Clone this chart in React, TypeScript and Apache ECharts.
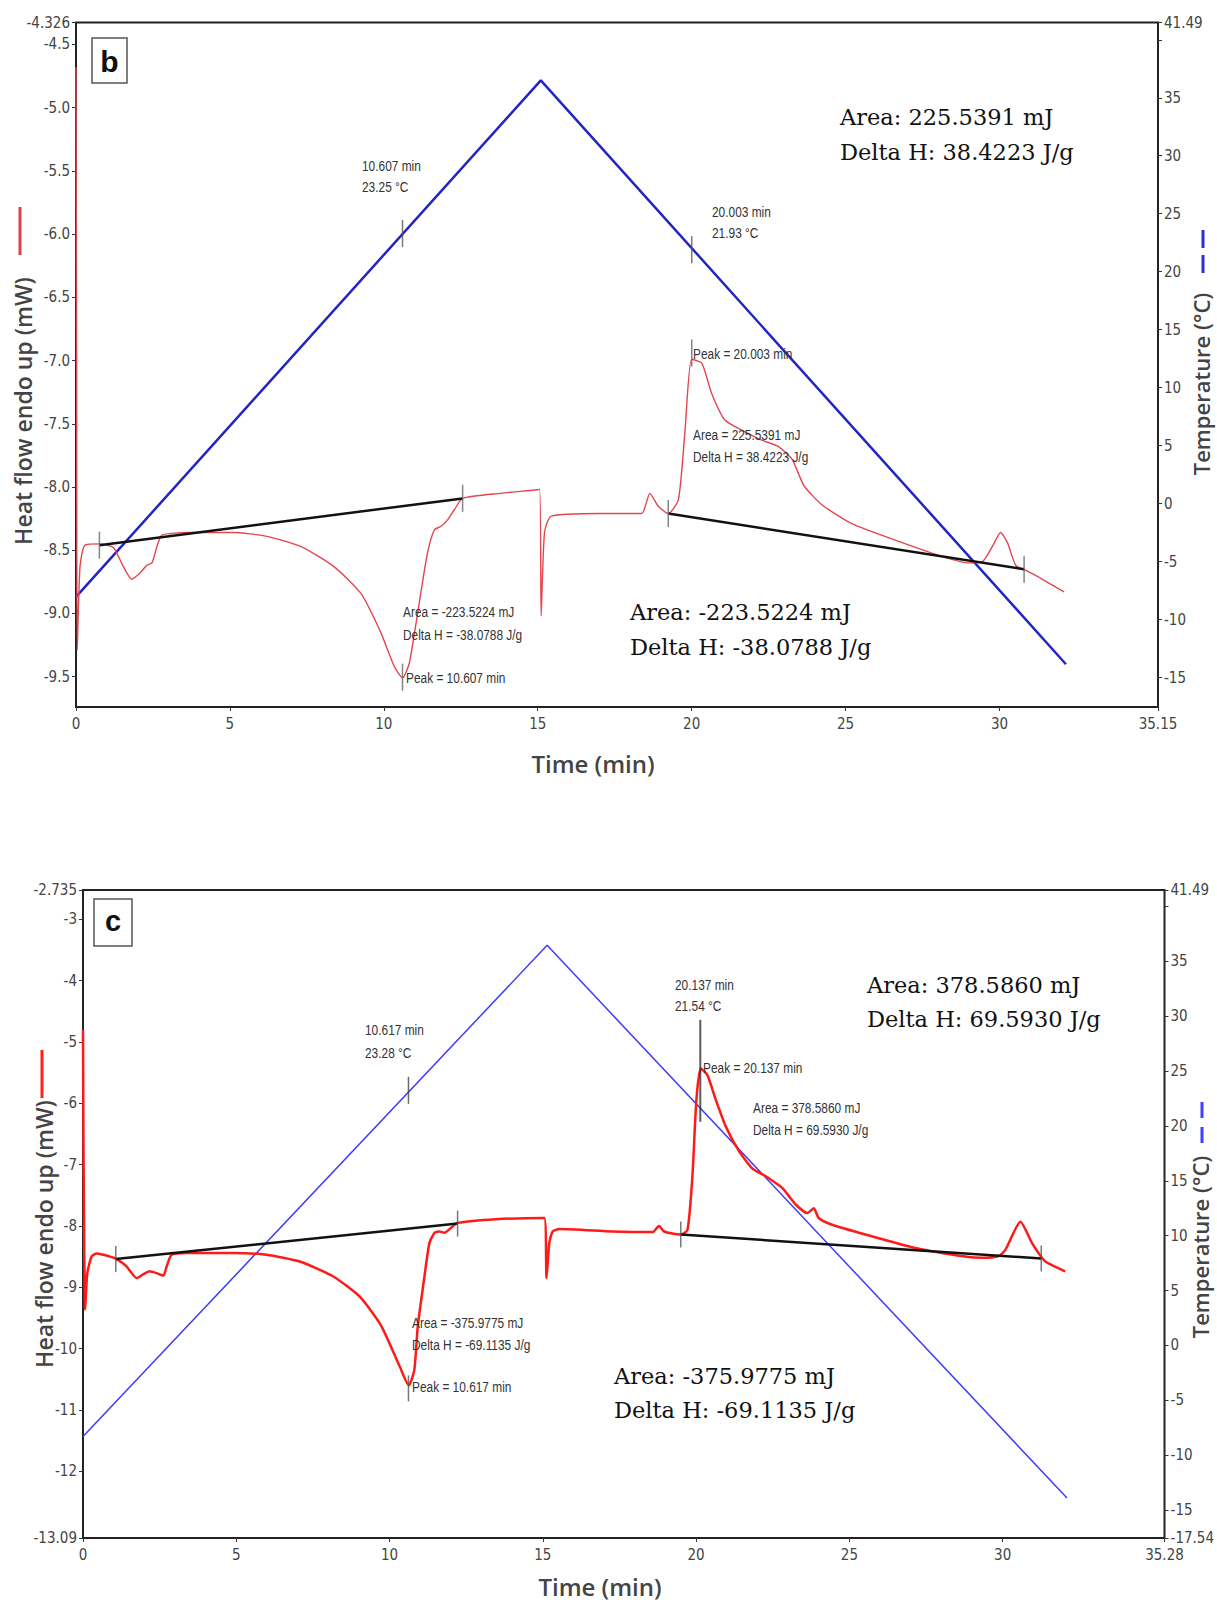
import React, { useEffect, useRef } from "react";
import * as echarts from "echarts";

// ---------- Panel b data ----------
const heatFlowB: [number, number][] = [
  [0, -4.68], [0.02, -7.0], [0.04, -9.29], [0.13, -8.63], [0.29, -8.46], [0.78, -8.45],
  [1.22, -8.48], [1.54, -8.63], [1.81, -8.73], [2.08, -8.68], [2.3, -8.62], [2.47, -8.6],
  [2.63, -8.47], [2.79, -8.38], [3.6, -8.36], [5.1, -8.36], [6.2, -8.39], [7.3, -8.47],
  [8.38, -8.63], [9.25, -8.84], [9.9, -9.15], [10.34, -9.42], [10.61, -9.51], [10.82, -9.4],
  [11.0, -9.15], [11.2, -8.84], [11.42, -8.52], [11.64, -8.34], [11.86, -8.31], [12.07, -8.26],
  [12.29, -8.18], [12.56, -8.09], [13.8, -8.05], [15.06, -8.02], [15.11, -9.02], [15.22, -8.36],
  [15.44, -8.23], [17.07, -8.21], [18.37, -8.21], [18.64, -8.05], [18.91, -8.15], [19.24, -8.21],
  [19.57, -8.1], [19.78, -7.57], [20.0, -6.99], [20.33, -7.02], [20.65, -7.26], [21.08, -7.47],
  [21.63, -7.55], [22.28, -7.63], [22.82, -7.68], [23.26, -7.78], [23.65, -7.99], [24.23, -8.14],
  [25.2, -8.29], [26.84, -8.44], [28.14, -8.55], [29.01, -8.6], [29.45, -8.59], [29.77, -8.47],
  [30.04, -8.36], [30.26, -8.44], [30.53, -8.62], [30.86, -8.66], [31.4, -8.73], [32.1, -8.83],
];
const temperatureB: [number, number][] = [[0, -8.05], [15.1, 36.5], [32.16, -13.85]];
const baselineB1: [number, number][] = [[0.76, -8.46], [12.56, -8.09]];
const baselineB2: [number, number][] = [[19.24, -8.21], [30.8, -8.65]];
const markersHeatB: [number, number][] = [
  [0.76, -8.46], [12.56, -8.09], [10.607, -9.504], [19.24, -8.21], [20.003, -6.94], [30.8, -8.65],
];
const markersTempB: [number, number][] = [[10.607, 23.3], [20.003, 21.9]];

const xTicksB = [0, 5, 10, 15, 20, 25, 30, 35.15];
const yLeftTicksB = [-4.326, -4.5, -5, -5.5, -6, -6.5, -7, -7.5, -8, -8.5, -9, -9.5];
const yRightTicksB = [41.49, 35, 30, 25, 20, 15, 10, 5, 0, -5, -10, -15];
const yRightMinorB = [41.49, 40, 35, 30, 25, 20, 15, 10, 5, 0, -5, -10, -15];

// ---------- Panel c data ----------
const heatFlowC: [number, number][] = [
  [0, -4.8], [0.02, -7.0], [0.07, -9.36], [0.14, -8.77], [0.28, -8.5], [0.45, -8.45],
  [0.88, -8.5], [1.1, -8.54], [1.42, -8.66], [1.75, -8.85], [1.96, -8.79], [2.18, -8.74],
  [2.4, -8.77], [2.62, -8.81], [2.73, -8.66], [2.89, -8.47], [3.38, -8.44], [4.9, -8.44],
  [5.98, -8.47], [7.07, -8.58], [8.15, -8.82], [9.02, -9.15], [9.72, -9.62], [10.33, -10.29],
  [10.63, -10.6], [10.81, -10.34], [10.92, -9.64], [11.14, -8.82], [11.3, -8.28], [11.47, -8.11],
  [11.63, -8.09], [11.79, -8.11], [12.01, -8.03], [12.22, -7.95], [13.47, -7.89], [15.05, -7.87],
  [15.12, -8.85], [15.21, -8.28], [15.32, -8.09], [15.54, -8.05], [17.27, -8.09], [18.58, -8.1],
  [18.79, -8.0], [18.96, -8.09], [19.5, -8.14], [19.72, -8.06], [19.88, -7.19], [20.01, -5.94],
  [20.15, -5.43], [20.37, -5.54], [20.64, -5.94], [20.97, -6.38], [21.4, -6.78], [21.83, -7.06],
  [22.27, -7.19], [22.81, -7.38], [23.25, -7.65], [23.63, -7.79], [23.84, -7.71], [24.0, -7.87],
  [24.44, -7.98], [25.53, -8.14], [27.16, -8.36], [28.78, -8.5], [29.33, -8.52], [29.87, -8.49],
  [30.09, -8.39], [30.58, -7.93], [30.96, -8.28], [31.17, -8.44], [31.39, -8.58], [32.04, -8.74],
];
const temperatureC: [number, number][] = [[0, -8.3], [15.14, 36.45], [32.1, -13.9]];
const baselineC1: [number, number][] = [[1.07, -8.54], [12.22, -7.96]];
const baselineC2: [number, number][] = [[19.5, -8.14], [31.26, -8.53]];
const markersHeatC: [number, number][] = [
  [1.07, -8.54], [12.22, -7.96], [10.617, -10.65], [19.5, -8.14], [31.26, -8.53],
];
const peakMarkerC: [number, number][] = [[20.137, -5.47]];
const markersTempC: [number, number][] = [[10.617, 23.24]];

const xTicksC = [0, 5, 10, 15, 20, 25, 30, 35.28];
const yLeftTopC = -2.52;
const yLeftTicksC = [yLeftTopC, -3, -4, -5, -6, -7, -8, -9, -10, -11, -12, -13.09];
const yRightTicksC = [41.49, 35, 30, 25, 20, 15, 10, 5, 0, -5, -10, -15, -17.54];
const yRightMinorC = [41.49, 40, 35, 30, 25, 20, 15, 10, 5, 0, -5, -10, -15, -17.54];

// ---------- Styling ----------
const NARROW = '"DejaVu Sans Condensed", "Liberation Sans", Arial, sans-serif';
const SANS = '"Liberation Sans", Arial, sans-serif';
const TITLE = '"Open Sans", "Noto Sans", sans-serif';
const SERIF = '"DejaVu Serif", "Liberation Serif", serif';

function xAxisCfg(grid: number, max: number, ticks: number[]) {
  return {
    type: "value", gridIndex: grid, min: 0, max,
    axisLine: { show: false, onZero: false }, splitLine: { show: false },
    axisTick: { show: true, length: 4, customValues: ticks, lineStyle: { color: "#333" } },
    axisLabel: { customValues: ticks, fontFamily: NARROW, fontSize: 15, color: "#444", margin: 9,
      formatter: (v: number) => String(v) },
  };
}
function yAxisCfg(grid: number, pos: string, min: number, max: number, labels: number[], ticks: number[], fmt: (v: number) => string) {
  return {
    type: "value", gridIndex: grid, position: pos, min, max,
    axisLine: { show: false, onZero: false }, splitLine: { show: false },
    axisTick: { show: true, length: 4, customValues: ticks, lineStyle: { color: "#333" } },
    axisLabel: { customValues: labels, fontFamily: NARROW, fontSize: 15, color: "#444", margin: 6, formatter: fmt },
  };
}
function txt(text: string, x: number, y: number, size: number, family: string, opts: any = {}) {
  const align = opts.align || "left";
  return {
    type: "text", x, y, rotation: opts.rotation || 0, scaleX: opts.scaleX || 1, z: 100,
    style: {
      text, fontSize: size, fontFamily: family, fontWeight: opts.weight || "normal",
      fill: opts.fill || "#333", textAlign: align, textVerticalAlign: "middle",
      align, verticalAlign: "middle",
    },
  };
}
function vline(x: number, y1: number, y2: number, stroke: string, width: number, dash?: number[]) {
  return { type: "line", z: 100, shape: { x1: x, y1, x2: x, y2 }, style: { stroke, lineWidth: width, lineDash: dash } };
}
const small = (t: string, x: number, y: number) => txt(t, x, y, 14.5, SANS, { fill: "#333", scaleX: 0.82 });
const big = (t: string, x: number, y: number) => txt(t, x, y, 22.5, SERIF, { fill: "#111" });

const option: any = {
  animation: false,
  backgroundColor: "#ffffff",
  grid: [
    { left: 76, top: 22.5, width: 1082, height: 684.5, show: true, borderColor: "#222", borderWidth: 2, backgroundColor: "transparent" },
    { left: 83, top: 890, width: 1083, height: 648, show: true, borderColor: "#222", borderWidth: 2, backgroundColor: "transparent" },
  ],
  xAxis: [xAxisCfg(0, 35.15, xTicksB), xAxisCfg(1, 35.28, xTicksC)],
  yAxis: [
    yAxisCfg(0, "left", -9.74, -4.326, yLeftTicksB, yLeftTicksB, (v) => (v === -4.326 ? "-4.326" : v.toFixed(1))),
    yAxisCfg(0, "right", -17.54, 41.49, yRightTicksB, yRightMinorB, (v) => String(v)),
    yAxisCfg(1, "left", -13.09, yLeftTopC, yLeftTicksC, yLeftTicksC, (v) => (v === yLeftTopC ? "-2.735" : String(v))),
    yAxisCfg(1, "right", -17.54, 41.49, yRightTicksC, yRightMinorC, (v) => String(v)),
  ],
  series: [
    // panel b
    { type: "line", xAxisIndex: 0, yAxisIndex: 1, data: temperatureB, symbol: "none", lineStyle: { color: "#2424c4", width: 2.5 } },
    { type: "line", xAxisIndex: 0, yAxisIndex: 0, data: heatFlowB, symbol: "none", smooth: 0.2, lineStyle: { color: "#e2474f", width: 1.4 } },
    { type: "line", xAxisIndex: 0, yAxisIndex: 0, data: baselineB1, symbol: "none", lineStyle: { color: "#111", width: 2.5 } },
    { type: "line", xAxisIndex: 0, yAxisIndex: 0, data: baselineB2, symbol: "none", lineStyle: { color: "#111", width: 2.5 } },
    { type: "scatter", xAxisIndex: 0, yAxisIndex: 0, data: markersHeatB, symbol: "rect", symbolSize: [1.5, 27], itemStyle: { color: "#666" }, z: 5 },
    { type: "scatter", xAxisIndex: 0, yAxisIndex: 1, data: markersTempB, symbol: "rect", symbolSize: [1.5, 27], itemStyle: { color: "#555" }, z: 5 },
    // panel c
    { type: "line", xAxisIndex: 1, yAxisIndex: 3, data: temperatureC, symbol: "none", lineStyle: { color: "#3c3cff", width: 1.5 } },
    { type: "line", xAxisIndex: 1, yAxisIndex: 2, data: heatFlowC, symbol: "none", smooth: 0.2, lineStyle: { color: "#ff1a1a", width: 2.5 } },
    { type: "line", xAxisIndex: 1, yAxisIndex: 2, data: baselineC1, symbol: "none", lineStyle: { color: "#111", width: 2.5 } },
    { type: "line", xAxisIndex: 1, yAxisIndex: 2, data: baselineC2, symbol: "none", lineStyle: { color: "#111", width: 2.5 } },
    { type: "scatter", xAxisIndex: 1, yAxisIndex: 2, data: markersHeatC, symbol: "rect", symbolSize: [1.5, 26], itemStyle: { color: "#555" }, z: 5 },
    { type: "scatter", xAxisIndex: 1, yAxisIndex: 2, data: peakMarkerC, symbol: "rect", symbolSize: [2, 102], itemStyle: { color: "#333" }, z: 5 },
    { type: "scatter", xAxisIndex: 1, yAxisIndex: 3, data: markersTempC, symbol: "rect", symbolSize: [1.5, 27], itemStyle: { color: "#444" }, z: 5 },
  ],
  graphic: [
    // panel labels
    { type: "rect", z: 100, shape: { x: 92, y: 38, width: 35, height: 45 }, style: { fill: "#fff", stroke: "#555", lineWidth: 1.5 } },
    txt("b", 109.5, 61, 30, SANS, { align: "center", weight: "bold", fill: "#111" }),
    { type: "rect", z: 100, shape: { x: 94, y: 899, width: 38, height: 47 }, style: { fill: "#fff", stroke: "#555", lineWidth: 1.5 } },
    txt("c", 113, 921, 29, SANS, { align: "center", weight: "bold", fill: "#111" }),

    // axis titles b
    txt("Heat flow endo up (mW)", 23, 411, 23, TITLE, { align: "center", rotation: Math.PI / 2, weight: 600, fill: "#444" }),
    vline(20, 207, 255, "#e0404a", 3),
    txt("Temperature (°C)", 1201, 384, 22, TITLE, { align: "center", rotation: Math.PI / 2, weight: 600, fill: "#444" }),
    vline(1203, 230, 277, "#3030d0", 3, [18, 7]),
    txt("Time (min)", 593, 763, 24, TITLE, { align: "center", weight: 600, fill: "#444" }),

    // axis titles c
    txt("Heat flow endo up (mW)", 44, 1234, 23, TITLE, { align: "center", rotation: Math.PI / 2, weight: 600, fill: "#444" }),
    vline(42, 1050, 1098, "#ff2020", 3),
    txt("Temperature (°C)", 1200, 1247, 22, TITLE, { align: "center", rotation: Math.PI / 2, weight: 600, fill: "#444" }),
    vline(1202, 1102, 1147, "#4040ff", 3, [16, 9]),
    txt("Time (min)", 600, 1586, 24, TITLE, { align: "center", weight: 600, fill: "#444" }),

    // small annotations b
    small("10.607 min", 362, 166), small("23.25 °C", 362, 187),
    small("20.003 min", 712, 212), small("21.93 °C", 712, 233),
    small("Peak = 20.003 min", 693, 354),
    small("Area = 225.5391 mJ", 693, 435), small("Delta H = 38.4223 J/g", 693, 457),
    small("Area = -223.5224 mJ", 403, 612), small("Delta H = -38.0788 J/g", 403, 635),
    small("Peak = 10.607 min", 406, 678),

    // small annotations c
    small("10.617 min", 365, 1030), small("23.28 °C", 365, 1053),
    small("20.137 min", 675, 985), small("21.54 °C", 675, 1006),
    small("Peak = 20.137 min", 703, 1068),
    small("Area = 378.5860 mJ", 753, 1108), small("Delta H = 69.5930 J/g", 753, 1130),
    small("Area = -375.9775 mJ", 412, 1323), small("Delta H = -69.1135 J/g", 412, 1345),
    small("Peak = 10.617 min", 412, 1387),

    // big annotations
    big("Area: 225.5391 mJ", 840, 117), big("Delta H: 38.4223 J/g", 840, 152),
    big("Area: -223.5224 mJ", 630, 612), big("Delta H: -38.0788 J/g", 630, 647),
    big("Area: 378.5860 mJ", 867, 985), big("Delta H: 69.5930 J/g", 867, 1019),
    big("Area: -375.9775 mJ", 614, 1376), big("Delta H: -69.1135 J/g", 614, 1410),
  ],
};

export default function App() {
  const ref = useRef<HTMLDivElement>(null);
  useEffect(() => {
    if (!ref.current) return;
    const chart = echarts.init(ref.current, undefined, { renderer: "svg" });
    chart.setOption(option);
    return () => chart.dispose();
  }, []);
  return (
    <div
      ref={ref}
      style={{ position: "absolute", left: 0, top: 0, width: 1217, height: 1602, background: "#fff" }}
    />
  );
}
